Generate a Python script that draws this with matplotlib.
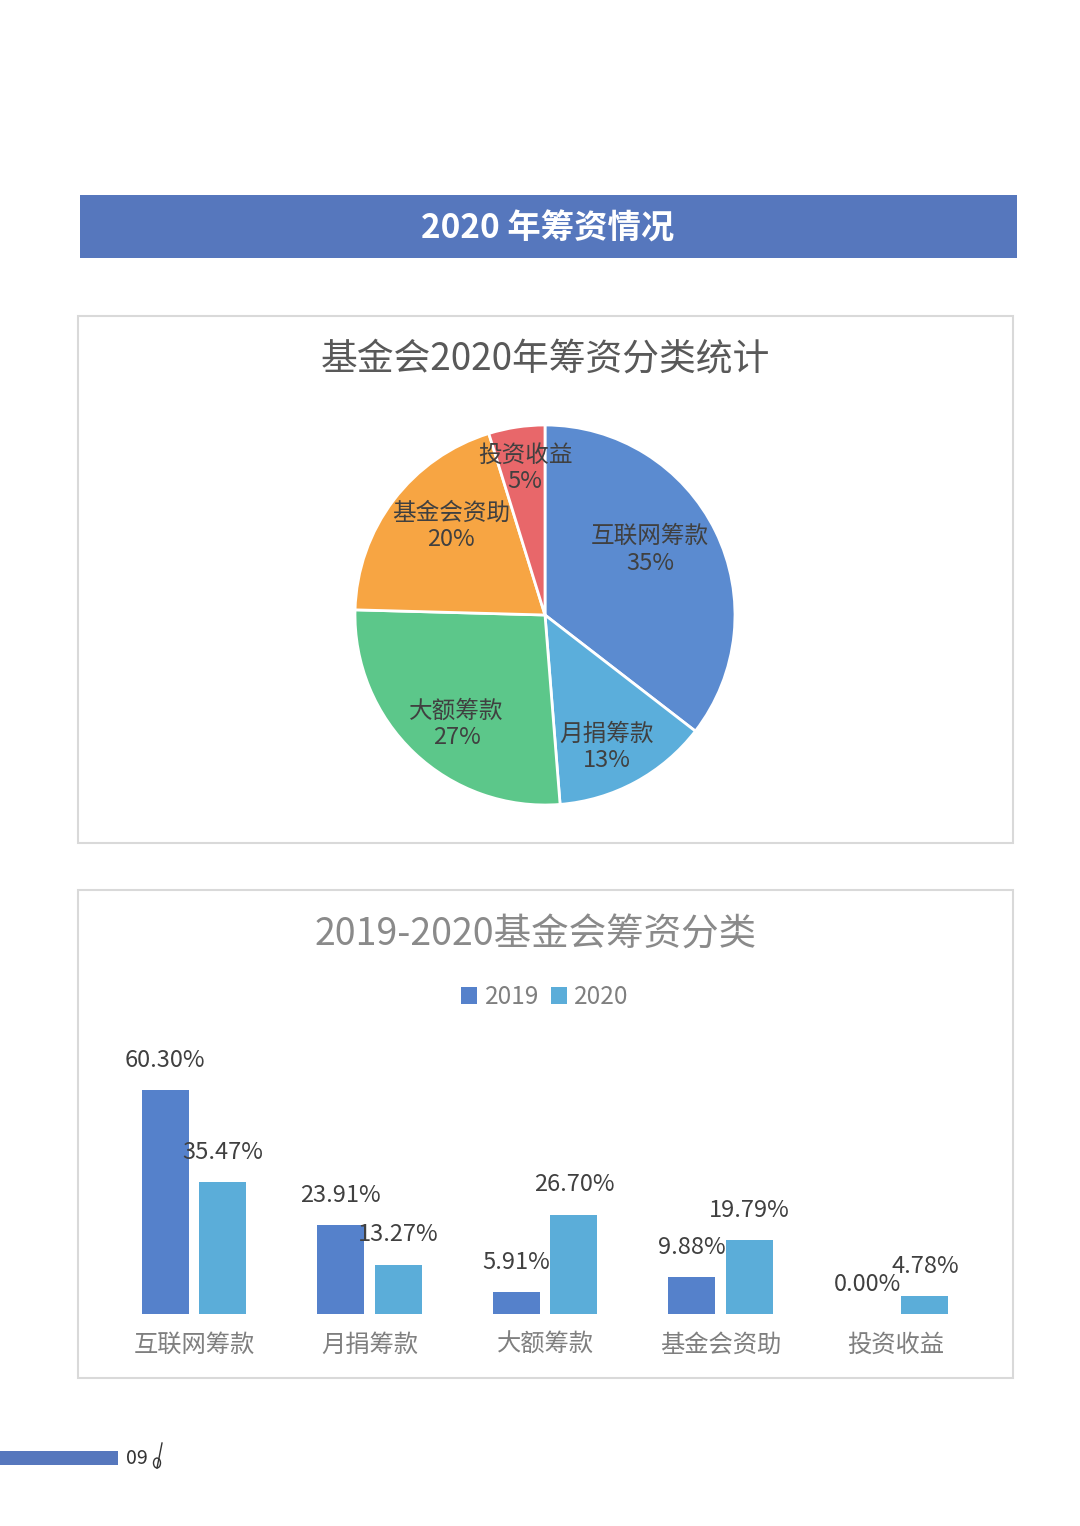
import numpy as np, matplotlib
matplotlib.use('Agg')
import matplotlib.pyplot as plt
from matplotlib.patches import Rectangle, Circle
from matplotlib.lines import Line2D

plt.rcParams['font.family'] = ['Noto Sans CJK SC', 'DejaVu Sans']

# pie data (2020 shares)
pie_names = ['互联网筹款', '月捐筹款', '大额筹款', '基金会资助', '投资收益']
pie_vals = [35.47, 13.27, 26.70, 19.79, 4.78]
pie_pct = ['35%', '13%', '27%', '20%', '5%']

# bar data
cats = ['互联网筹款', '月捐筹款', '大额筹款', '基金会资助', '投资收益']
v2019 = [60.30, 23.91, 5.91, 9.88, 0.00]
v2020 = [35.47, 13.27, 26.70, 19.79, 4.78]
years = ['2019', '2020']

BANNER = '#5677BD'
PIE_COLORS = ['#5B8BD0', '#5BAEDB', '#5CC78A', '#F7A543', '#E8676A']
C19 = '#5581CB'
C20 = '#5BADD9'
BORDER = '#D9D9D9'

W, H = 1080, 1526
fig = plt.figure(figsize=(W / 100, H / 100), dpi=100)


def rect(x0, y0, x1, y1):
    # pixel box (top-left origin) -> figure fraction [l, b, w, h]
    return [x0 / W, 1 - y1 / H, (x1 - x0) / W, (y1 - y0) / H]


def fx(x):
    return x / W


def fy(y):
    return 1 - y / H


# banner
fig.add_artist(Rectangle((fx(80), fy(258)), (1017 - 80) / W, 63 / H, transform=fig.transFigure,
                         facecolor=BANNER, edgecolor='none'))
fig.text(fx(548), fy(229), '2020 年筹资情况', color='white', fontsize=24, fontweight='bold',
         ha='center', va='center')

# panel frames
for (x0, y0, x1, y1) in [(78, 316, 1013, 843), (78, 890, 1013, 1378)]:
    fig.add_artist(Rectangle((fx(x0), fy(y1)), (x1 - x0) / W, (y1 - y0) / H, transform=fig.transFigure,
                             facecolor='none', edgecolor=BORDER, lw=1.5))

# ---- pie ----
fig.text(fx(545), fy(360), '基金会2020年筹资分类统计', color='#595959', fontsize=26.5, ha='center', va='center')
r_px = 190
cx, cy = 545, 615
pad = 1.03
ax_p = fig.add_axes(rect(cx - r_px * pad, cy - r_px * pad, cx + r_px * pad, cy + r_px * pad))
wedges, _ = ax_p.pie(pie_vals, colors=PIE_COLORS, startangle=90, counterclock=False,
                     wedgeprops=dict(edgecolor='white', linewidth=2))
ax_p.set_xlim(-pad, pad)
ax_p.set_ylim(-pad, pad)
ax_p.set_aspect('equal')
ax_p.axis('off')
lab_dist = [0.65, 0.77, 0.74, 0.68, 0.78]
lab_turn = [5.7, -3.4, 4.6, -6.2, -0.9]
for w, nm, pc, d, t in zip(wedges, pie_names, pie_pct, lab_dist, lab_turn):
    a = np.deg2rad((w.theta1 + w.theta2) / 2 + t)
    ax_p.text(d * np.cos(a), d * np.sin(a), f'{nm}\n{pc}', ha='center', va='center',
              fontsize=17, color='#404040', linespacing=1.2)

# ---- bars ----
fig.text(fx(536), fy(935), '2019-2020基金会筹资分类', color='#8A8A8A', fontsize=27, ha='center', va='center')
step = 175.5
ax_b = fig.add_axes(rect(194 - 0.6 * step, 1314 - 70 * 3.715, 896 + 0.6 * step, 1314))
x = np.arange(len(cats))
bw, off = 0.268, 0.165
b1 = ax_b.bar(x - off, v2019, bw, color=C19, label=years[0])
b2 = ax_b.bar(x + off, v2020, bw, color=C20, label=years[1])
for bars, vals in [(b1, v2019), (b2, v2020)]:
    for b, v in zip(bars, vals):
        ax_b.annotate(f'{v:.2f}%', (b.get_x() + b.get_width() / 2, v), xytext=(0, 21.5),
                      textcoords='offset points', ha='center', va='center', fontsize=17, color='#404040')
ax_b.set_xlim(-0.6, len(cats) - 0.4)
ax_b.set_ylim(0, 70)
ax_b.set_xticks(x)
ax_b.set_xticklabels(cats, fontsize=17.5, color='#7F7F7F')
ax_b.tick_params(axis='x', length=0, pad=13)
ax_b.set_yticks([])
for s in ax_b.spines.values():
    s.set_visible(False)
fig.legend(handles=[b1, b2], labels=years, loc='center', bbox_to_anchor=(fx(545), fy(997)), ncol=2,
           frameon=False, fontsize=17.5, labelcolor='#7F7F7F', handlelength=0.65, handleheight=0.65,
           handletextpad=0.3, columnspacing=0.5)

# footer
fig.add_artist(Rectangle((0, fy(1465)), 118 / W, 14 / H, transform=fig.transFigure,
                         facecolor=BANNER, edgecolor='none'))
fig.text(fx(126), fy(1458), '09', fontsize=14, color='#333333', ha='left', va='center')
fig.add_artist(Line2D([fx(162), fx(157)], [fy(1443), fy(1468)], transform=fig.transFigure,
                      color='#333333', lw=1))
fig.add_artist(Circle((fx(157), fy(1463)), 3.5 / W, transform=fig.transFigure,
                      facecolor='none', edgecolor='#333333', lw=1))

fig.savefig('out.png', dpi=100)
